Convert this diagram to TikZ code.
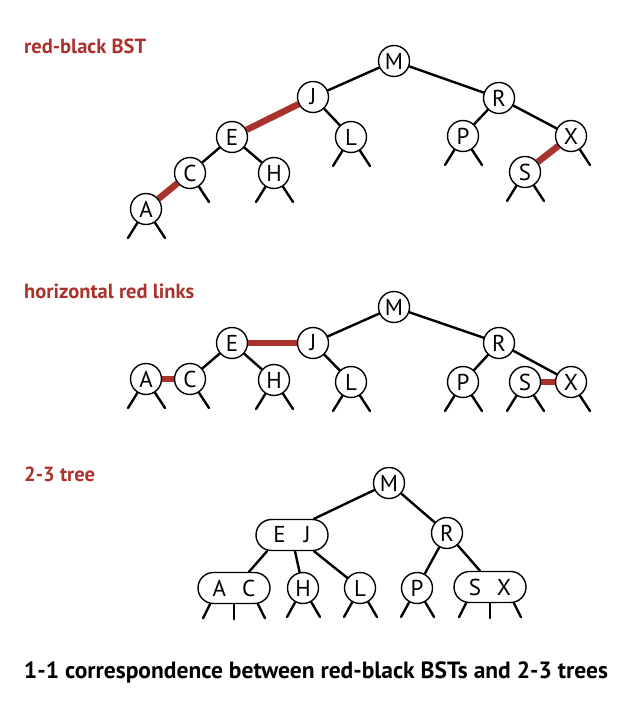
\documentclass[tikz,border=0pt]{standalone}
\usepackage{fontspec}
\setmainfont{PT Sans}
\usetikzlibrary{backgrounds,calc}
\definecolor{rbred}{RGB}{170,50,45}
\begin{document}
\begin{tikzpicture}[x=1pt,y=-1pt,
  nd/.style={circle,draw,fill=white,line width=1.4pt,minimum size=31pt,inner sep=0pt,font=\fontsize{23}{23}\selectfont},
  ndd/.style={draw,fill=white,line width=1.4pt,rounded corners=15.5pt,minimum height=31pt,minimum width=72pt,inner sep=0pt,font=\fontsize{23}{23}\selectfont},
  blk/.style={line width=2.4pt,line cap=round},
  redl/.style={line width=6.5pt,draw=rbred},
  lbl/.style={anchor=base west,text=rbred,inner sep=0pt,font=\fontsize{20.5}{20.5}\selectfont\bfseries}]
\useasboundingbox (0,0) rectangle (628,708);

% labels
\node[lbl] (t1) at (24,54) {red-black BST};
\node[lbl] (t2) at (24,298) {horizontal red links};
\node[lbl] (t3) at (24,481) {2-3 tree};
\node[anchor=base,inner sep=0pt,font=\fontsize{23.5}{23.5}\selectfont\bfseries] (cap) at (316,678) {1-1 correspondence between red-black BSTs and 2-3 trees};

% top tree
\node[nd] (M1) at (394,61) {M};
\node[nd] (J1) at (313,97) {J};
\node[nd] (R1) at (499,98) {R};
\node[nd] (E1) at (232,137) {E};
\node[nd] (L1) at (351,137) {L};
\node[nd] (P1) at (463,136) {P};
\node[nd] (X1) at (571,136) {X};
\node[nd] (C1) at (190,173) {C};
\node[nd] (H1) at (274,173) {H};
\node[nd] (S1) at (525,172) {S};
\node[nd] (A1) at (146,209) {A};

% middle tree
\node[nd] (M2) at (394,307) {M};
\node[nd] (J2) at (313,343) {J};
\node[nd] (R2) at (499,343) {R};
\node[nd] (E2) at (232,343) {E};
\node[nd] (L2) at (351,382) {L};
\node[nd] (P2) at (463,382) {P};
\node[nd] (S2) at (525,382) {S};
\node[nd] (X2) at (571,382) {X};
\node[nd] (A2) at (146,379) {A};
\node[nd] (C2) at (190,379) {C};
\node[nd] (H2) at (274,380) {H};

% bottom tree
\node[nd] (M3) at (389,483) {M};
\node[nd] (R3) at (447,533) {R};
\node[ndd] (EJ) at (292,535) {E\hspace{18pt}J};
\node[ndd] (AC) at (234,588) {A\hspace{16pt}C};
\node[nd] (H3) at (303,588) {H};
\node[nd] (L3) at (360,588) {L};
\node[nd] (P3) at (417,588) {P};
\node[ndd] (SX) at (490,587) {S\hspace{16pt}X};

\begin{pgfonlayer}{background}
  % top tree links
  \draw[blk] (M1) -- (J1);
  \draw[blk] (M1) -- (R1);
  \draw[redl] (J1) -- (E1);
  \draw[blk] (J1) -- (L1);
  \draw[blk] (E1) -- (C1);
  \draw[blk] (E1) -- (H1);
  \draw[redl] (C1) -- (A1);
  \draw[blk] (R1) -- (P1);
  \draw[blk] (R1) -- (X1);
  \draw[redl] (X1) -- (S1);
  % middle tree links
  \draw[blk] (M2) -- (J2);
  \draw[blk] (M2) -- (R2);
  \draw[redl] (E2) -- (J2);
  \draw[blk] (J2) -- (L2);
  \draw[blk] (E2) -- (C2);
  \draw[blk] (E2) -- (H2);
  \draw[redl] (A2) -- (C2);
  \draw[blk] (R2) -- (P2);
  \draw[blk] (R2) -- (X2);
  \draw[redl] (S2) -- (X2);
  % stubs, circle nodes
  \foreach \n in {A1,H1,L1,P1,S1,A2,H2,L2,P2,S2}{
    \draw[blk] (\n) -- ($(\n)+(-18,29)$);
    \draw[blk] (\n) -- ($(\n)+(19,29)$);
  }
  \foreach \n in {C1,X1,C2,X2}{
    \draw[blk] (\n) -- ($(\n)+(19,29)$);
  }
  % bottom tree links
  \draw[blk] (M3) -- ([xshift=22pt]EJ.north);
  \draw[blk] (M3) -- (R3);
  \draw[blk] ([xshift=-25pt]EJ.south) -- ([xshift=15pt]AC.north);
  \draw[blk] ([xshift=3pt]EJ.south) -- (H3);
  \draw[blk] ([xshift=22pt]EJ.south) -- (L3);
  \draw[blk] (R3) -- (P3);
  \draw[blk] (R3) -- ([xshift=-10pt]SX.north);
  \foreach \n in {H3,L3,P3}{
    \draw[blk] (\n) -- ($(\n)+(-16,29)$);
    \draw[blk] (\n) -- ($(\n)+(17,29)$);
  }
  \foreach \n in {AC,SX}{
    \draw[blk] ([xshift=-24pt]\n.south) -- ($(\n.south)+(-31,14)$);
    \draw[blk] (\n.south) -- ($(\n.south)+(0,15)$);
    \draw[blk] ([xshift=24pt]\n.south) -- ($(\n.south)+(31,14)$);
  }
\end{pgfonlayer}
\end{tikzpicture}
\end{document}
